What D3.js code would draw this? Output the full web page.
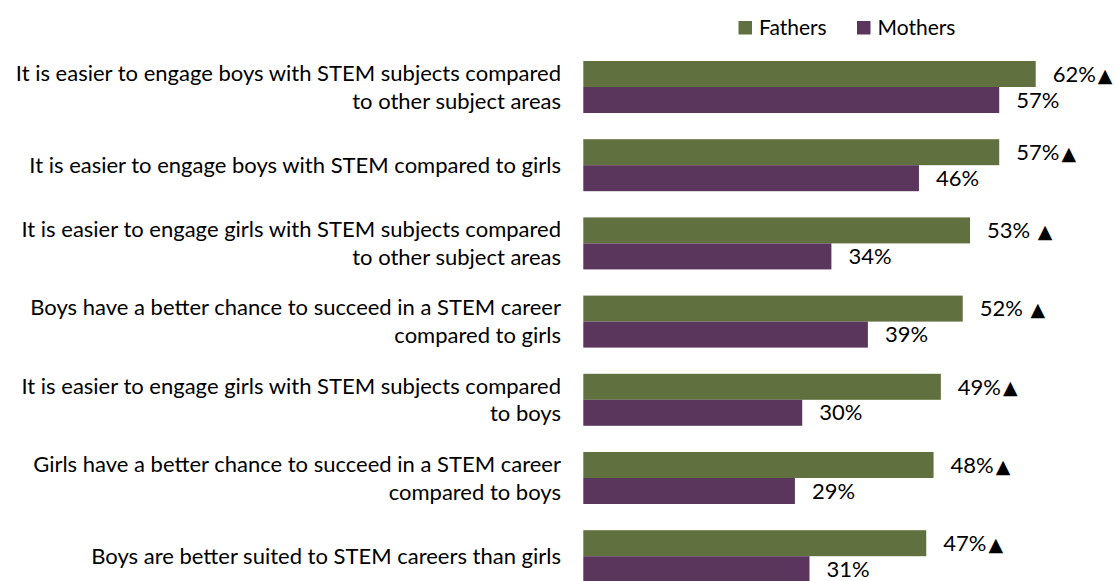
<!DOCTYPE html>
<html>
<head>
<meta charset="utf-8">
<script src="https://cdn.jsdelivr.net/npm/d3@7"></script>
<style>
  body { margin: 0; background: #fff; }
  text { font-family: Lato, "Open Sans", sans-serif; fill: #000; }
</style>
</head>
<body>
<script>
var categories = [
  ["It is easier to engage boys with STEM subjects compared", "to other subject areas"],
  ["It is easier to engage boys with STEM compared to girls"],
  ["It is easier to engage girls with STEM subjects compared", "to other subject areas"],
  ["Boys have a better chance to succeed in a STEM career", "compared to girls"],
  ["It is easier to engage girls with STEM subjects compared", "to boys"],
  ["Girls have a better chance to succeed in a STEM career", "compared to boys"],
  ["Boys are better suited to STEM careers than girls"]
];
var fathers = [62, 57, 53, 52, 49, 48, 47];
var mothers = [57, 46, 34, 39, 30, 29, 31];
var fatherMarks = ["▲", "▲", " ▲", " ▲", "▲", "▲", "▲"];
var seriesNames = ["Fathers", "Mothers"];
var colors = ["#61703f", "#5b365c"];

var width = 1118;
var height = 581;

var svg = d3.select("body")
  .append("svg")
  .attr("width", width)
  .attr("height", height);

var xScale = d3.scaleLinear()
  .domain([0, 100])
  .range([583.3, 1313]);

// step 78.2, bar pair 52px, first bar top at y=61
var yScale = d3.scaleBand()
  .domain(d3.range(categories.length))
  .range([47.9, 595.3])
  .paddingInner(0.335)
  .paddingOuter(0.1675);

var barH = yScale.bandwidth() / 2;

var groups = svg.selectAll("g.grp")
  .data(categories)
  .enter()
  .append("g")
  .attr("class", "grp")
  .attr("transform", function(d, i) { return "translate(0," + yScale(i) + ")"; });

groups.append("rect")
  .attr("x", xScale(0))
  .attr("y", 0)
  .attr("width", function(d, i) { return xScale(fathers[i]) - xScale(0); })
  .attr("height", barH)
  .attr("fill", colors[0]);

groups.append("rect")
  .attr("x", xScale(0))
  .attr("y", barH)
  .attr("width", function(d, i) { return xScale(mothers[i]) - xScale(0); })
  .attr("height", barH)
  .attr("fill", colors[1]);

var fLabels = groups.append("text")
  .attr("x", function(d, i) { return xScale(fathers[i]) + 17; })
  .attr("y", barH / 2)
  .attr("dy", "0.35em")
  .attr("font-size", "22px")
  .style("white-space", "pre");

fLabels.append("tspan")
  .text(function(d, i) { return fathers[i] + "%" + (fatherMarks[i].charAt(0) === " " ? " " : ""); });

fLabels.append("tspan")
  .attr("dx", 2)
  .attr("font-family", "DejaVu Sans")
  .attr("font-size", "19px")
  .text("▲");

groups.append("text")
  .attr("x", function(d, i) { return xScale(mothers[i]) + 17; })
  .attr("y", barH * 1.5)
  .attr("dy", "0.35em")
  .attr("font-size", "22px")
  .text(function(d, i) { return mothers[i] + "%"; });

// category labels, right aligned
groups.append("text")
  .attr("text-anchor", "end")
  .attr("font-size", "22px")
  .each(function(d) {
    var t = d3.select(this);
    var n = d.length;
    d.forEach(function(line, k) {
      t.append("tspan")
        .attr("x", 561)
        .attr("y", barH + (k - (n - 1) / 2) * 28)
        .attr("dy", "0.35em")
        .text(line);
    });
  });

// legend
var legendX = [738.5, 857];
var legend = svg.selectAll("g.leg")
  .data(seriesNames)
  .enter()
  .append("g")
  .attr("class", "leg")
  .attr("transform", function(d, i) { return "translate(" + legendX[i] + ",21)"; });

legend.append("rect")
  .attr("width", 13.5)
  .attr("height", 13.5)
  .attr("fill", function(d, i) { return colors[i]; });

legend.append("text")
  .attr("x", 20.5)
  .attr("y", 7)
  .attr("dy", "0.35em")
  .attr("font-size", "21px")
  .text(function(d) { return d; });
</script>
</body>
</html>
